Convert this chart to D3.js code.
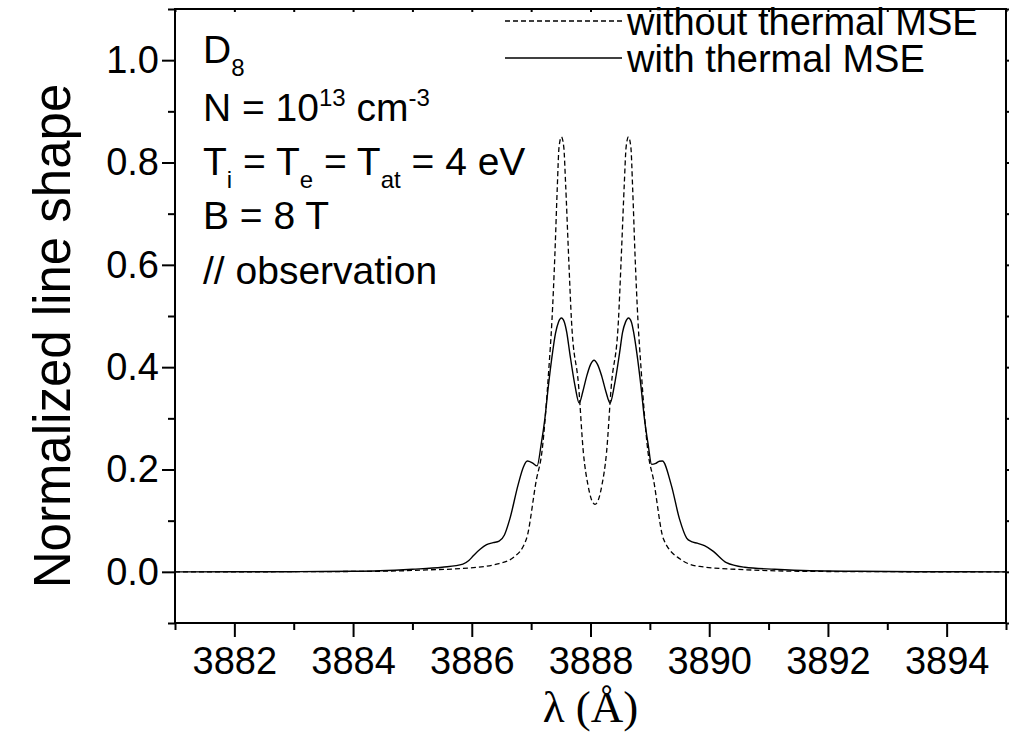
<!DOCTYPE html>
<html>
<head>
<meta charset="utf-8">
<script src="https://cdn.jsdelivr.net/npm/d3@7"></script>
<style>
  html, body { margin: 0; padding: 0; background: #fff; }
  svg { display: block; }
  .tick text { font-family: "Liberation Sans", Arial, sans-serif; font-size: 38px; fill: #000; }
  .tick line { stroke: #000; stroke-width: 2px; }
</style>
</head>
<body>
<div id="chart"></div>
<script>
// DATA //

// Line shape without thermal motional Stark effect (dashed)
const lambdaDashed = [3881.0, 3883.0, 3884.5, 3885.3, 3885.85, 3886.42, 3886.70, 3886.92, 3887.09,
  3887.18, 3887.30, 3887.35, 3887.40, 3887.44, 3887.47, 3887.51, 3887.55, 3887.58, 3887.63,
  3887.68, 3887.80, 3887.88, 3887.96, 3888.02, 3888.075, 3888.13, 3888.19, 3888.27, 3888.35,
  3888.47, 3888.52, 3888.57, 3888.60, 3888.64, 3888.68, 3888.71, 3888.75, 3888.80, 3888.85,
  3888.97, 3889.06, 3889.23, 3889.51, 3889.84, 3890.63, 3891.3, 3892.5, 3895.0];
const shapeDashed = [0.0, 0.0003, 0.0012, 0.004, 0.0066, 0.015, 0.028, 0.064, 0.181,
  0.233, 0.40, 0.49, 0.62, 0.75, 0.83, 0.85, 0.83, 0.76, 0.62,
  0.49, 0.363, 0.233, 0.168, 0.140, 0.132, 0.140, 0.168, 0.233, 0.363,
  0.49, 0.62, 0.76, 0.83, 0.85, 0.83, 0.75, 0.62, 0.49, 0.40,
  0.233, 0.181, 0.064, 0.025, 0.0105, 0.004, 0.0015, 0.0004, 0.0];

// Line shape with thermal motional Stark effect (solid)
const lambdaSolid = [3881.0, 3883.0, 3884.0, 3884.45, 3885.0, 3885.5, 3885.85, 3885.95, 3886.03,
  3886.14, 3886.25, 3886.36, 3886.46, 3886.55, 3886.64, 3886.78, 3886.87, 3886.935, 3887.02,
  3887.10, 3887.17, 3887.23, 3887.29, 3887.36, 3887.41, 3887.46, 3887.51, 3887.56, 3887.60,
  3887.65, 3887.74, 3887.81, 3887.87, 3887.935, 3888.0, 3888.06, 3888.12, 3888.19, 3888.26,
  3888.33, 3888.40, 3888.49, 3888.54, 3888.59, 3888.64, 3888.69, 3888.73, 3888.78, 3888.85,
  3888.91, 3888.97, 3889.03, 3889.10, 3889.16, 3889.21, 3889.36, 3889.50, 3889.62, 3889.70,
  3889.80, 3889.92, 3890.07, 3890.29, 3890.60, 3891.1, 3891.7, 3892.5, 3893.5, 3895.0];
const shapeSolid = [0.0, 0.0003, 0.001, 0.002, 0.005, 0.009, 0.015, 0.022, 0.032,
  0.044, 0.053, 0.057, 0.060, 0.072, 0.103, 0.17, 0.205, 0.2165, 0.213,
  0.207, 0.25, 0.298, 0.363, 0.428, 0.466, 0.488, 0.496, 0.488, 0.468,
  0.428, 0.363, 0.330, 0.352, 0.382, 0.405, 0.4135, 0.405, 0.382, 0.352,
  0.330, 0.363, 0.428, 0.468, 0.488, 0.496, 0.488, 0.466, 0.428, 0.363,
  0.298, 0.25, 0.210, 0.212, 0.216, 0.2165, 0.17, 0.103, 0.066, 0.059,
  0.056, 0.051, 0.040, 0.018, 0.009, 0.005, 0.002, 0.001, 0.0003, 0.0];

const xMajorTicks = [3882, 3884, 3886, 3888, 3890, 3892, 3894];
const xMinorTicks = [3881, 3883, 3885, 3887, 3889, 3891, 3893, 3895];
const yMajorTicks = [0.0, 0.2, 0.4, 0.6, 0.8, 1.0];
const yMinorTicks = [-0.1, 0.1, 0.3, 0.5, 0.7, 0.9, 1.1];
const legendLabels = ['without thermal MSE', 'with thermal MSE'];


// SETUP //

const width = 1016;
const height = 735;
const plot = { left: 175, right: 1006, top: 9, bottom: 623 };
const font = '"Liberation Sans", Arial, sans-serif';

const svg = d3.select('#chart').append('svg')
  .attr('width', width)
  .attr('height', height);

const x = d3.scaleLinear()
  .domain([3881, 3895])
  .range([plot.left, plot.right]);

const y = d3.scaleLinear()
  .domain([-0.1, 1.1])
  .range([plot.bottom, plot.top]);


// AXES //

function addAxis(axis, transform) {
  const g = svg.append('g')
    .attr('transform', transform)
    .call(axis);
  g.select('.domain').remove();
  return g;
}

// bottom: major with labels, minor without
const xBottom = addAxis(d3.axisBottom(x).tickValues(xMajorTicks).tickSize(14).tickPadding(10)
  .tickFormat(d3.format('d')), `translate(0,${plot.bottom})`);
xBottom.selectAll('text').attr('dy', '0.71em');
addAxis(d3.axisBottom(x).tickValues(xMinorTicks).tickSize(7).tickFormat(''), `translate(0,${plot.bottom})`);

// left
addAxis(d3.axisLeft(y).tickValues(yMajorTicks).tickSize(13).tickPadding(3)
  .tickFormat(d3.format('.1f')), `translate(${plot.left},0)`);
addAxis(d3.axisLeft(y).tickValues(yMinorTicks).tickSize(7).tickFormat(''), `translate(${plot.left},0)`);

// top and right, short ticks only
addAxis(d3.axisTop(x).tickValues(xMajorTicks.concat(xMinorTicks)).tickSize(-3).tickFormat(''),
  `translate(0,${plot.top})`);
addAxis(d3.axisRight(y).tickValues(yMajorTicks.concat(yMinorTicks)).tickSize(3).tickFormat(''),
  `translate(${plot.right},0)`);

// frame
svg.append('rect')
  .attr('x', plot.left)
  .attr('y', plot.top)
  .attr('width', plot.right - plot.left)
  .attr('height', plot.bottom - plot.top)
  .attr('fill', 'none')
  .attr('stroke', '#000')
  .attr('stroke-width', 2);

// axis titles
svg.append('text')
  .attr('transform', `translate(70,${(plot.top + plot.bottom) / 2 + 20}) rotate(-90)`)
  .attr('text-anchor', 'middle')
  .style('font-family', font)
  .style('font-size', '51px')
  .text('Normalized line shape');

svg.append('text')
  .attr('x', (plot.left + plot.right) / 2)
  .attr('y', 722)
  .attr('text-anchor', 'middle')
  .style('font-family', '"Liberation Serif", "Times New Roman", serif')
  .style('font-size', '45px')
  .text('λ (Å)');


// CURVES //

const line = d3.line()
  .x(d => x(d[0]))
  .y(d => y(d[1]))
  .curve(d3.curveMonotoneX);

svg.append('clipPath').attr('id', 'plot-clip')
  .append('rect')
  .attr('x', plot.left).attr('y', plot.top)
  .attr('width', plot.right - plot.left).attr('height', plot.bottom - plot.top);

svg.append('path')
  .datum(d3.zip(lambdaDashed, shapeDashed))
  .attr('clip-path', 'url(#plot-clip)')
  .attr('d', line)
  .attr('fill', 'none')
  .attr('stroke', '#000')
  .attr('stroke-width', 1.3)
  .attr('stroke-dasharray', '5,3');

svg.append('path')
  .datum(d3.zip(lambdaSolid, shapeSolid))
  .attr('clip-path', 'url(#plot-clip)')
  .attr('d', line)
  .attr('fill', 'none')
  .attr('stroke', '#000')
  .attr('stroke-width', 1.4);


// LEGEND //

const legend = svg.append('g');
legendLabels.forEach((label, i) => {
  const ly = 21 + i * 37;
  legend.append('line')
    .attr('x1', 505).attr('x2', 622)
    .attr('y1', ly).attr('y2', ly)
    .attr('stroke', '#000')
    .attr('stroke-width', 1.3)
    .attr('stroke-dasharray', i === 0 ? '5,3' : null);
  legend.append('text')
    .attr('x', 627)
    .attr('y', ly + 14)
    .style('font-family', font)
    .style('font-size', '38px')
    .text(label);
});


// ANNOTATION //

const note = svg.append('text')
  .attr('x', 203)
  .style('font-family', font)
  .style('font-size', '39px');

// each part: [text, 'sub' | 'sup' | undefined]; shifts are undone on the next part
function addLine(baseline, parts) {
  const t = note.append('tspan').attr('x', 203).attr('y', baseline);
  let carry = 0;
  parts.forEach(p => {
    const shift = p[1] === 'sub' ? 13 : p[1] === 'sup' ? -15 : 0;
    const s = t.append('tspan')
      .attr('dy', carry + shift)
      .text(p[0]);
    if (shift) s.attr('font-size', '24px');
    carry = -shift;
  });
}

addLine(63, [['D'], ['8', 'sub']]);
addLine(121, [['N = 10'], ['13', 'sup'], [' cm'], ['-3', 'sup']]);
addLine(175, [['T'], ['i', 'sub'], [' = T'], ['e', 'sub'], [' = T'], ['at', 'sub'], [' = 4 eV']]);
addLine(229, [['B = 8 T']]);
addLine(284, [['// observation']]);
</script>
</body>
</html>
